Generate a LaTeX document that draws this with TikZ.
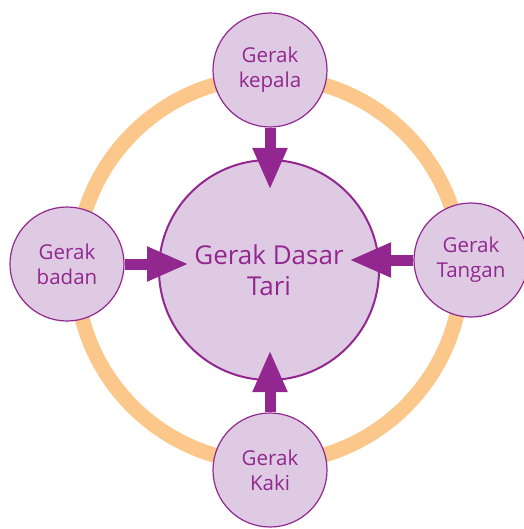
\documentclass[tikz,border=0pt]{standalone}
\usepackage{fontspec}
\setmainfont{Open Sans}
\usetikzlibrary{arrows.meta}
\definecolor{plum}{HTML}{92278F}
\definecolor{lilac}{HTML}{DFCAE3}
\definecolor{peach}{HTML}{FBC78A}
\tikzset{part/.style={circle,draw=plum,fill=lilac,line width=1.2pt,minimum size=114pt,inner sep=0pt,align=center,text=plum,font=\fontsize{20.5}{25}\selectfont},hub/.style={part,line width=2pt,minimum size=220pt,font=\fontsize{26}{31}\selectfont},arr/.style={draw=plum,line width=11pt,-{Triangle[width=32pt,length=42pt]},shorten >=80pt}}

\begin{document}
\begin{tikzpicture}[x=1pt,y=-1pt]
\useasboundingbox (0,0) rectangle (523,529);
\draw[peach,line width=15pt] (269,270) circle (193pt);
\node[hub] (ctr) at (269,270) {Gerak Dasar\\Tari};
\node[part] (kepala) at (270,70) {Gerak\\kepala};
\node[part] (badan) at (67,264) {Gerak\\badan};
\node[part] (tangan) at (471,260) {Gerak\\Tangan};
\node[part] (kaki) at (270,470) {Gerak\\Kaki};
\draw[arr] (kepala) -- (kepala |- ctr);
\draw[arr] (badan) -- (badan -| ctr);
\draw[arr] (tangan) -- (tangan -| ctr);
\draw[arr] (kaki) -- (kaki |- ctr);
\end{tikzpicture}
\end{document}
